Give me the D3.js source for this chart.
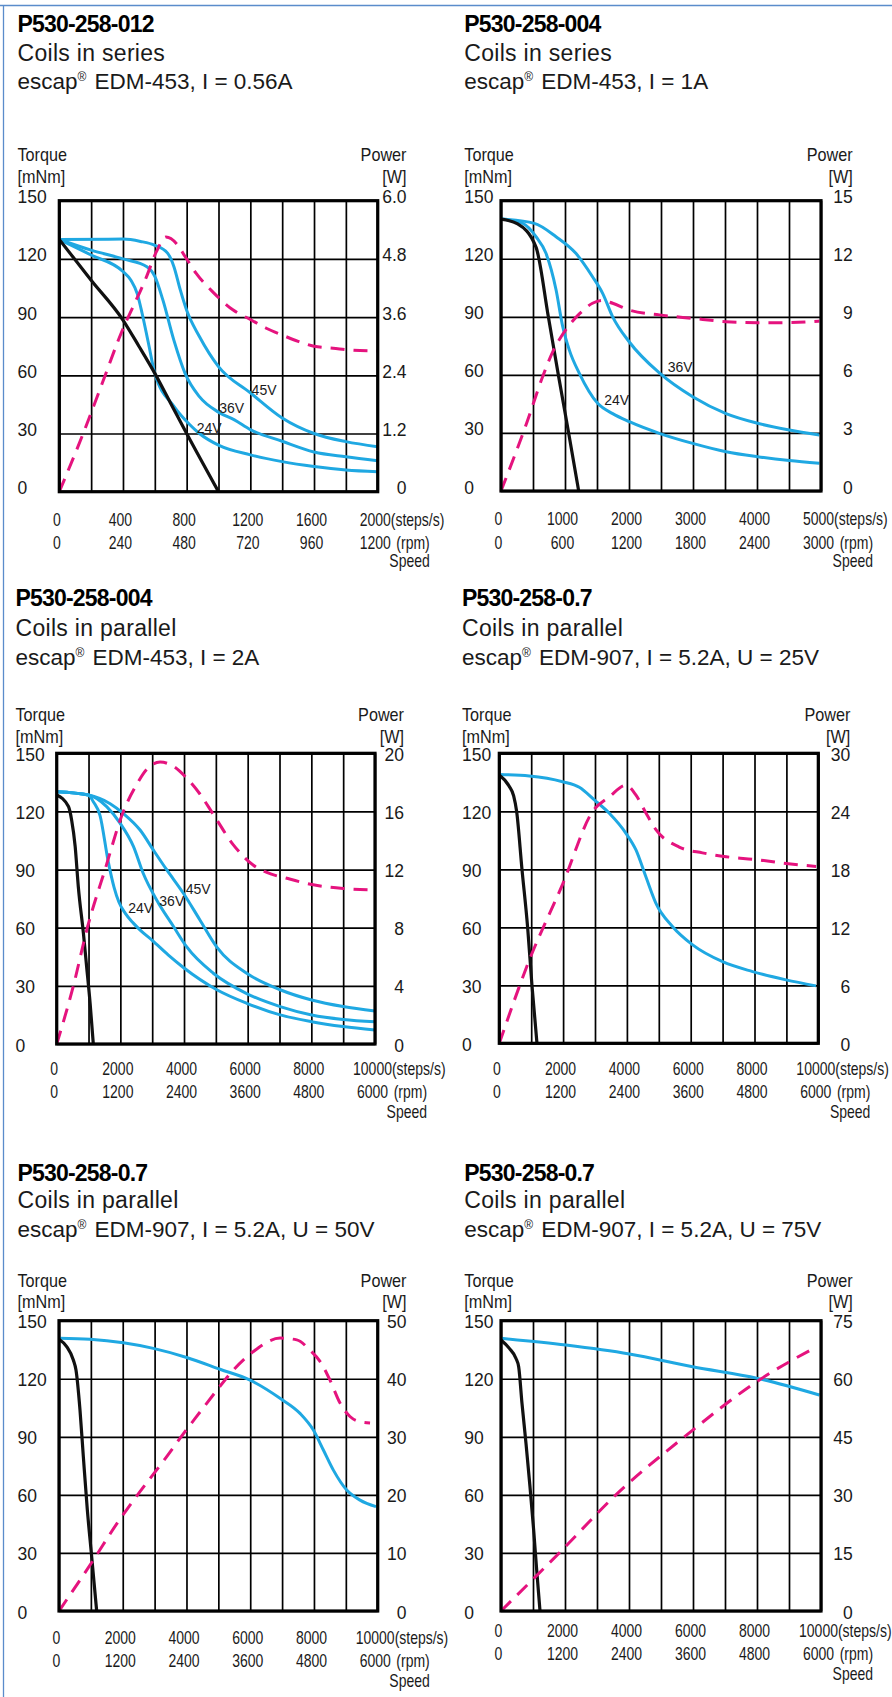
<!DOCTYPE html>
<html>
<head>
<meta charset="utf-8">
<script src="https://cdn.jsdelivr.net/npm/d3@7"></script>
<style>
    body { margin: 0; background: #fff; }
    svg text { font-family: "Liberation Sans", Arial, Helvetica, sans-serif; }
</style>
</head>
<body>
<svg id="chart"></svg>
<script>
// values: [speed steps/s, torque mNm] and [speed steps/s, power W]
const torqueTicks = [0, 30, 60, 90, 120, 150];

const titles = ["P530-258-012", "P530-258-004", "P530-258-004", "P530-258-0.7", "P530-258-0.7", "P530-258-0.7"];
const coils = ["Coils in series", "Coils in series", "Coils in parallel", "Coils in parallel", "Coils in parallel", "Coils in parallel"];
const motors = ["EDM-453, I = 0.56A", "EDM-453, I = 1A", "EDM-453, I = 2A",
    "EDM-907, I = 5.2A, U = 25V", "EDM-907, I = 5.2A, U = 50V", "EDM-907, I = 5.2A, U = 75V"];

// panel 1
const p1Steps = [0, 400, 800, 1200, 1600, 2000];
const p1Rpm = ["0", "240", "480", "720", "960", "1200"];
const p1Power = ["0", "1.2", "2.4", "3.6", "4.8", "6.0"];
const p1Black = [[0,130],[200,109],[400,88.5],[500,75],[600,61],[700,45.5],[800,30],[1000,0]];
const p1V24 = [[0,130],[200,122],[400,113.5],[450,109],[490,102],[520,92],[560,76.5],[600,61],[720,44],[820,34.5],[880,30],[1000,24],[1200,19],[1400,15.5],[1600,13],[1800,11.2],[2000,10.3]];
const p1V36 = [[0,130],[200,124.5],[400,120],[550,116],[600,111],[650,99],[720,78],[790,61],[880,49],[1000,41],[1100,37],[1200,32],[1400,26],[1600,20.5],[1800,18],[2000,16]];
const p1V45 = [[0,130],[400,130.2],[510,129],[600,127],[680,123],[720,116],[760,104],[800,93.5],[880,80],[1000,64.5],[1200,51],[1400,38],[1600,30],[1800,25.8],[2000,23.2]];
const p1Watt = [[0,0],[150,1.2],[260,2.15],[380,3.2],[550,4.45],[610,4.95],[670,5.25],[740,5.1],[790,4.85],[860,4.5],[970,4.1],[1090,3.75],[1200,3.55],[1300,3.37],[1400,3.23],[1500,3.1],[1600,3.0],[1720,2.96],[1830,2.92],[2000,2.9]];
const p1Labels = [["45V",1208,50],["36V",1005,40.4],["24V",863,30.4]];

// panel 2
const p2Steps = [0, 1000, 2000, 3000, 4000, 5000];
const p2Rpm = ["0", "600", "1200", "1800", "2400", "3000"];
const p2Power = ["0", "3", "6", "9", "12", "15"];
const p2Black = [[0,140.5],[260,138],[547,126],[740,90],[896,60],[1057,30],[1214,0]];
const p2V24 = [[0,140.5],[340,138.3],[547,131.4],[703,122.8],[860,104],[964,85],[1068,72.8],[1224,60.8],[1510,45.3],[1745,40],[2005,35.8],[2474,29.8],[2995,24.6],[3516,20.3],[4010,17.7],[4505,15.7],[4974,14.3]];
const p2V36 = [[0,140.5],[520,138.3],[860,131.4],[1170,122.8],[1430,110.7],[1590,102],[1745,90],[2005,77],[2474,61],[2995,48.7],[3516,40],[4010,35],[4505,31.5],[4974,28.9]];
const p2Watt = [[0,0],[400,3.5],[650,5.9],[810,7.2],[964,8.1],[1224,9.15],[1430,9.7],[1590,9.85],[1745,9.7],[2005,9.35],[2474,9.1],[2995,8.92],[3516,8.75],[4010,8.7],[4505,8.7],[4974,8.78]];
const p2Labels = [["36V",2605,61.6],["24V",1614,44.4]];

// panels 3 to 6 share the speed axis
const pSteps = [0, 2000, 4000, 6000, 8000, 10000];
const pRpm = ["0", "1200", "2400", "3600", "4800", "6000"];

// panel 3
const p3Power = ["0", "4", "8", "12", "16", "20"];
const p3Black = [[0,128.5],[370,122.5],[470,115.5],[580,102],[680,81],[840,57],[940,40],[1050,21],[1150,0]];
const p3V24 = [[0,130.2],[1000,128.5],[1150,125],[1360,118],[1620,94],[1800,81],[1960,73],[2150,67.5],[2400,62.5],[2640,58.5],[3000,53.5],[3500,46],[3980,39.5],[5030,28],[5970,21],[7020,15],[8010,11.5],[9000,9],[10000,7.2]];
const p3V36 = [[0,130.2],[1000,128.5],[1570,122.5],[1990,114],[2410,102],[2720,88],[3140,74.3],[3670,60.6],[4080,50.2],[4920,36.5],[5970,26],[7020,19.3],[8010,15],[9000,12.7],[10000,11.5]];
const p3V45 = [[0,130.2],[1000,128.5],[1680,124],[2090,119],[2620,110.4],[3040,100],[3460,89.8],[3980,77.8],[4500,64],[5030,50],[5970,36.5],[7020,28],[8010,22.7],[9000,19.3],[10000,17]];
const p3Watt = [[0,0],[524,4],[963,8],[1518,12],[2094,16],[2500,17.8],[2830,18.9],[3250,19.4],[3670,19.1],[4080,18.3],[4500,17.2],[4920,15.8],[5550,13.7],[6180,12.3],[6600,11.8],[7230,11.4],[8060,10.95],[9000,10.7],[10000,10.6]];
const p3Labels = [["24V",2249,67.4],["36V",3224,71.2],["45V",4053,77.4]];

// panel 4
const p4Power = ["0", "6", "12", "18", "24", "30"];
const p4Black = [[0,138.8],[310,133],[450,128],[543,120],[711,90],[888,60],[1024,30],[1181,0]];
const p4Blue = [[0,139],[940,138.3],[1985,135.3],[2508,132.4],[2978,125.9],[3448,119],[3971,108.6],[4284,100],[4598,86],[4911,72.4],[5434,60.3],[6061,50.9],[7001,42.2],[7941,37.1],[8986,32.8],[9927,29.7]];
const p4Watt = [[0,0],[940,8.6],[1990,16.5],[2930,24],[3450,25.5],[3970,26.7],[4280,25.7],[4600,23.8],[4910,22.1],[5640,20.3],[6370,19.7],[7110,19.3],[8050,19],[8990,18.6],[9930,18.3]];

// panel 5
const p5Power = ["0", "10", "20", "30", "40", "50"];
const p5Black = [[0,140.4],[241,136.6],[450,129.7],[533,124.5],[659,103.8],[764,79.7],[889,52.2],[1025,28.1],[1182,0]];
const p5Blue = [[0,140.9],[973,140.4],[2019,138.6],[2960,135.7],[4006,131],[5052,124.9],[5994,119.3],[6935,109.9],[7563,102.1],[7981,93.5],[8295,83.2],[8609,72.8],[9027,62.5],[9446,57.3],[9948,53.9]];
const p5Watt = [[0,0],[1080,8.8],[1810,15],[2330,19],[3380,26.6],[3900,30.5],[4430,34.3],[4950,38],[5470,41.5],[6100,44.7],[6940,47],[7460,46.7],[7880,44.9],[8190,43],[8500,39.8],[8820,35.8],[9130,33.5],[9450,32.6],[9760,32.4]];

// panel 6
const p6Power = ["0", "15", "30", "45", "60", "75"];
const p6Black = [[0,140],[260,135.7],[469,130.5],[552,126.2],[656,107.3],[781,86.6],[906,64.2],[1021,41.8],[1115,21.2],[1219,0]];
const p6Blue = [[0,140.9],[2030,137.4],[4010,132.8],[5990,126.2],[8020,120.2],[9950,111.6]];
const p6Watt = [[0,0],[1820,15],[3590,30],[5730,45],[8130,60],[9850,68.2]];

// table for the drawing loop
const panels = [
    { steps: p1Steps, rpm: p1Rpm, power: p1Power, black: p1Black, blue: [p1V24, p1V36, p1V45], watt: p1Watt, labels: p1Labels },
    { steps: p2Steps, rpm: p2Rpm, power: p2Power, black: p2Black, blue: [p2V24, p2V36], watt: p2Watt, labels: p2Labels },
    { steps: pSteps, rpm: pRpm, power: p3Power, black: p3Black, blue: [p3V24, p3V36, p3V45], watt: p3Watt, labels: p3Labels },
    { steps: pSteps, rpm: pRpm, power: p4Power, black: p4Black, blue: [p4Blue], watt: p4Watt, labels: [] },
    { steps: pSteps, rpm: pRpm, power: p5Power, black: p5Black, blue: [p5Blue], watt: p5Watt, labels: [] },
    { steps: pSteps, rpm: pRpm, power: p6Power, black: p6Black, blue: [p6Blue], watt: p6Watt, labels: [] }
];

// page positions of each panel
const layout = [
    { tx: 17.5, titleY: 32, sub1Y: 60.5, sub2Y: 89, l: 59.3, r: 377.7, t: 200.7, b: 491.7, rx: 406.5, headY: 160.7, unitY: 182.7, tickDy: 2, row1Y: 526, row2Y: 549.3, speedY: 567 },
    { tx: 464.3, titleY: 32, sub1Y: 60.5, sub2Y: 89, l: 501, r: 821, t: 200.7, b: 491, rx: 852.7, headY: 160.7, unitY: 182.7, tickDy: 2, row1Y: 525, row2Y: 549.3, speedY: 567 },
    { tx: 15.5, titleY: 606.3, sub1Y: 635.6, sub2Y: 665.2, l: 56.7, r: 375, t: 753.3, b: 1044, rx: 404, headY: 720.7, unitY: 742.7, tickDy: 7, row1Y: 1075, row2Y: 1098.3, speedY: 1118.3 },
    { tx: 462, titleY: 606.3, sub1Y: 635.6, sub2Y: 665.2, l: 499.3, r: 818.3, t: 753.3, b: 1043.3, rx: 850.3, headY: 720.7, unitY: 742.7, tickDy: 7, row1Y: 1075, row2Y: 1098.3, speedY: 1118.3 },
    { tx: 17.5, titleY: 1180.6, sub1Y: 1207.8, sub2Y: 1237.4, l: 59, r: 377.7, t: 1320.7, b: 1611, rx: 406.5, headY: 1286.7, unitY: 1307.7, tickDy: 7, row1Y: 1644, row2Y: 1666.7, speedY: 1686.7 },
    { tx: 464.3, titleY: 1180.6, sub1Y: 1207.8, sub2Y: 1237.4, l: 501, r: 821, t: 1320.7, b: 1611, rx: 852.7, headY: 1286.7, unitY: 1307.7, tickDy: 7, row1Y: 1636.7, row2Y: 1660, speedY: 1680 }
];

const ink = "#1a1a1a";
const blue = "#1fa8e2";
const magenta = "#e5137e";

let svg = d3.select("#chart")
    .attr("width", 892)
    .attr("height", 1697);

// page frame (top and left rule)
svg.append("line")
    .attr("x1", 0).attr("x2", 892).attr("y1", 5.5).attr("y2", 5.5)
    .attr("stroke", "#5a8ccb").attr("stroke-width", 1.3);
svg.append("line")
    .attr("x1", 3.5).attr("x2", 3.5).attr("y1", 5).attr("y2", 1697)
    .attr("stroke", "#5a8ccb").attr("stroke-width", 1.3);

panels.forEach(function(p, k) {
    let L = layout[k];
    let g = svg.append("g");

    // headings
    g.append("text")
        .attr("x", L.tx).attr("y", L.titleY)
        .attr("fill", "#000")
        .style("font-size", "23px").style("font-weight", "bold").style("letter-spacing", "-0.8px")
        .text(titles[k]);
    g.append("text")
        .attr("x", L.tx).attr("y", L.sub1Y)
        .attr("fill", ink)
        .style("font-size", "23px").style("letter-spacing", "0.3px")
        .text(coils[k]);
    let line2 = g.append("text")
        .attr("x", L.tx).attr("y", L.sub2Y)
        .attr("fill", ink)
        .style("font-size", "22.5px");
    line2.append("tspan").text("escap");
    line2.append("tspan").attr("dy", -8).style("font-size", "12px").text("®");
    line2.append("tspan").attr("dy", 8).attr("dx", 8).text(motors[k]);

    // scales
    let xScale = d3.scaleLinear()
        .domain([0, p.steps[p.steps.length - 1]])
        .range([L.l, L.r]);
    let yScale = d3.scaleLinear()
        .domain([0, 150])
        .range([L.b, L.t]);
    let pScale = d3.scaleLinear()
        .domain([0, +p.power[p.power.length - 1]])
        .range([L.b, L.t]);

    // grid
    let gx = g.append("g")
        .attr("transform", `translate(0, ${L.b})`)
        .call(d3.axisBottom(xScale).ticks(10).tickSize(-(L.b - L.t)).tickFormat(""));
    gx.select(".domain").remove();
    gx.selectAll("line").attr("stroke", "#000").attr("stroke-width", 1.7);

    let gy = g.append("g")
        .attr("transform", `translate(${L.l}, 0)`)
        .call(d3.axisLeft(yScale).tickValues(torqueTicks).tickSize(-(L.r - L.l)).tickFormat(""));
    gy.select(".domain").remove();
    gy.selectAll("line").attr("stroke", "#000").attr("stroke-width", 1.7);

    // curves
    let torqueLine = d3.line()
        .x(d => xScale(d[0]))
        .y(d => yScale(d[1]))
        .curve(d3.curveMonotoneX);
    let powerLine = d3.line()
        .x(d => xScale(d[0]))
        .y(d => pScale(d[1]))
        .curve(d3.curveMonotoneX);

    g.selectAll(".blue")
        .data(p.blue)
        .enter().append("path")
        .attr("d", torqueLine)
        .attr("fill", "none")
        .attr("stroke", blue)
        .attr("stroke-width", 3);

    g.append("path")
        .attr("d", torqueLine(p.black))
        .attr("fill", "none")
        .attr("stroke", "#111")
        .attr("stroke-width", 3.2);

    g.append("path")
        .attr("d", powerLine(p.watt))
        .attr("fill", "none")
        .attr("stroke", magenta)
        .attr("stroke-width", 3)
        .attr("stroke-dasharray", "14,9");

    // voltage labels
    g.selectAll(".vlab")
        .data(p.labels)
        .enter().append("text")
        .attr("x", d => xScale(d[1]))
        .attr("y", d => yScale(d[2]))
        .attr("fill", ink)
        .style("font-size", "14px")
        .text(d => d[0]);

    // frame of the plot
    g.append("rect")
        .attr("x", L.l).attr("y", L.t)
        .attr("width", L.r - L.l).attr("height", L.b - L.t)
        .attr("fill", "none")
        .attr("stroke", "#000")
        .attr("stroke-width", 3.2);

    // left axis labels
    let yAxis = g.append("g")
        .attr("transform", `translate(${L.l}, 0)`)
        .call(d3.axisLeft(yScale).tickValues(torqueTicks).tickSize(0));
    yAxis.select(".domain").remove();
    yAxis.selectAll("text")
        .attr("x", L.tx - L.l).attr("y", L.tickDy).attr("dy", null)
        .attr("text-anchor", "start")
        .attr("fill", ink)
        .style("font-size", "17.5px");

    // right axis labels
    let pAxis = g.append("g")
        .attr("transform", `translate(${L.r}, 0)`)
        .call(d3.axisRight(pScale).tickValues(p.power.map(Number)).tickSize(0).tickFormat((d, i) => p.power[i]));
    pAxis.select(".domain").remove();
    pAxis.selectAll("text")
        .attr("x", L.rx - L.r).attr("y", L.tickDy).attr("dy", null)
        .attr("text-anchor", "end")
        .attr("fill", ink)
        .style("font-size", "17.5px");

    // axis titles
    g.append("text").attr("transform", `translate(${L.tx}, ${L.headY}) scale(0.9, 1)`)
        .attr("fill", ink).style("font-size", "18px").text("Torque");
    g.append("text").attr("transform", `translate(${L.tx}, ${L.unitY}) scale(0.9, 1)`)
        .attr("fill", ink).style("font-size", "18px").text("[mNm]");
    g.append("text").attr("transform", `translate(${L.rx}, ${L.headY}) scale(0.9, 1)`)
        .attr("text-anchor", "end")
        .attr("fill", ink).style("font-size", "18px").text("Power");
    g.append("text").attr("transform", `translate(${L.rx}, ${L.unitY}) scale(0.9, 1)`)
        .attr("text-anchor", "end")
        .attr("fill", ink).style("font-size", "18px").text("[W]");

    // speed axis, two rows of labels (condensed type)
    const squeeze = "translate(-3, 0) scale(0.8, 1)";

    function speedRow(labels, rowY, suffix, gap) {
        let ax = g.append("g")
            .attr("transform", `translate(0, ${L.b})`)
            .call(d3.axisBottom(xScale).tickValues(p.steps).tickSize(0).tickFormat((d, i) => labels[i]));
        ax.select(".domain").remove();
        ax.selectAll("text")
            .attr("y", rowY - L.b).attr("dy", null)
            .attr("transform", squeeze)
            .attr("fill", ink)
            .style("font-size", "17.5px");
        let last = ax.select(".tick:last-of-type");
        let w = last.select("text").node().getComputedTextLength();
        let suf = last.append("text")
            .attr("x", w / 2 + gap).attr("y", rowY - L.b)
            .attr("text-anchor", "start")
            .attr("transform", squeeze)
            .attr("fill", ink)
            .style("font-size", "17.5px")
            .text(suffix);
        return { last: last, end: w / 2 + gap + suf.node().getComputedTextLength() };
    }

    speedRow(p.steps.map(String), L.row1Y, "(steps/s)", 0);
    let rpmRow = speedRow(p.rpm, L.row2Y, "(rpm)", 7);

    rpmRow.last.append("text")
        .attr("x", rpmRow.end).attr("y", L.speedY - L.b)
        .attr("text-anchor", "end")
        .attr("transform", squeeze)
        .attr("fill", ink)
        .style("font-size", "17.5px")
        .text("Speed");
});
</script>
</body>
</html>
